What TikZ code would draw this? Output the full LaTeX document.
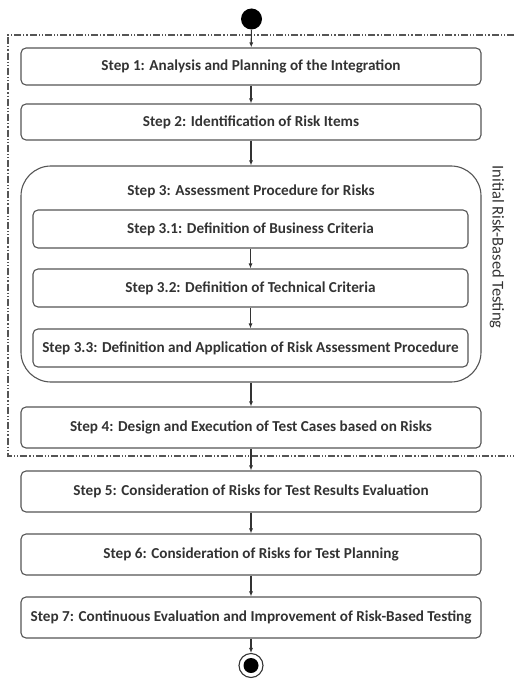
\documentclass[tikz,border=0pt]{standalone}
\usepackage{fontspec}
\setmainfont{Carlito}
\usetikzlibrary{arrows.meta}
\definecolor{ink}{HTML}{333333}
\definecolor{edge}{HTML}{555555}
\begin{document}
\begin{tikzpicture}[x=1pt,y=-1pt,
  stepbox/.style={draw=edge,line width=1.1pt,rounded corners=5pt,fill=white,
    minimum width=460pt,minimum height=38pt,inner sep=0pt,
    font=\fontsize{15.2}{17}\selectfont\bfseries,text=ink},
  subbox/.style={stepbox,minimum width=435pt},
  flow/.style={draw=ink,line width=1.1pt,-{Latex[length=5pt,width=4pt]}},
  frame/.style={draw=edge,line width=1.1pt,dash pattern=on 7pt off 2pt on 1.2pt off 2pt on 1.2pt off 2pt}]
\useasboundingbox (0,0) rectangle (514,679);

% dash-dotted frame around the initial phase
\draw[frame] (514,35) -- (8,35) -- (8,456) -- (514,456);
\node[rotate=-90,font=\fontsize{16.5}{18}\selectfont,text=ink] (lbl) at (497,247) {Initial Risk-Based Testing};

% start and end
\node[circle,fill=black,minimum size=21pt,inner sep=0pt] (start) at (251.5,19) {};

\node[stepbox,minimum height=37pt] (s1) at (251,66.5) {Step 1: Analysis and Planning of the Integration};
\node[stepbox,minimum height=36pt] (s2) at (251,122) {Step 2: Identification of Risk Items};

% step 3 container with its sub-steps
\node[draw=edge,line width=1.1pt,rounded corners=30pt,minimum width=460pt,minimum height=216pt,inner sep=0pt] (s3) at (251,274) {};
\node[font=\fontsize{15.2}{17}\selectfont\bfseries,text=ink] (s3t) at (251,191) {Step 3: Assessment Procedure for Risks};
\node[subbox] (s31) at (250.5,229) {Step 3.1: Definition of Business Criteria};
\node[subbox] (s32) at (250.5,288) {Step 3.2: Definition of Technical Criteria};
\node[subbox] (s33) at (250.5,348) {Step 3.3: Definition and Application of Risk Assessment Procedure};

\node[stepbox,minimum height=41pt] (s4) at (251,427.5) {Step 4: Design and Execution of Test Cases based on Risks};
\node[stepbox,minimum height=41pt] (s5) at (251,491.5) {Step 5: Consideration of Risks for Test Results Evaluation};
\node[stepbox,minimum height=41pt] (s6) at (251,554.5) {Step 6: Consideration of Risks for Test Planning};
\node[stepbox,minimum height=41pt] (s7) at (251,617.5) {Step 7: Continuous Evaluation and Improvement of Risk-Based Testing};

\node[circle,draw=ink,line width=1.1pt,fill=white,minimum size=24pt,inner sep=0pt] (stop) at (251,665.5) {};
\node[circle,fill=black,minimum size=15pt,inner sep=0pt] (stopdot) at (stop) {};

\draw[flow] (start) -- (s1);
\draw[flow] (s1) -- (s2);
\draw[flow] (s2) -- (s3);
\draw[flow] (s31) -- (s32);
\draw[flow] (s32) -- (s33);
\draw[flow] (s3) -- (s4);
\draw[flow] (s4) -- (s5);
\draw[flow] (s5) -- (s6);
\draw[flow] (s6) -- (s7);
\draw[flow] (s7) -- (stop);
\end{tikzpicture}
\end{document}
